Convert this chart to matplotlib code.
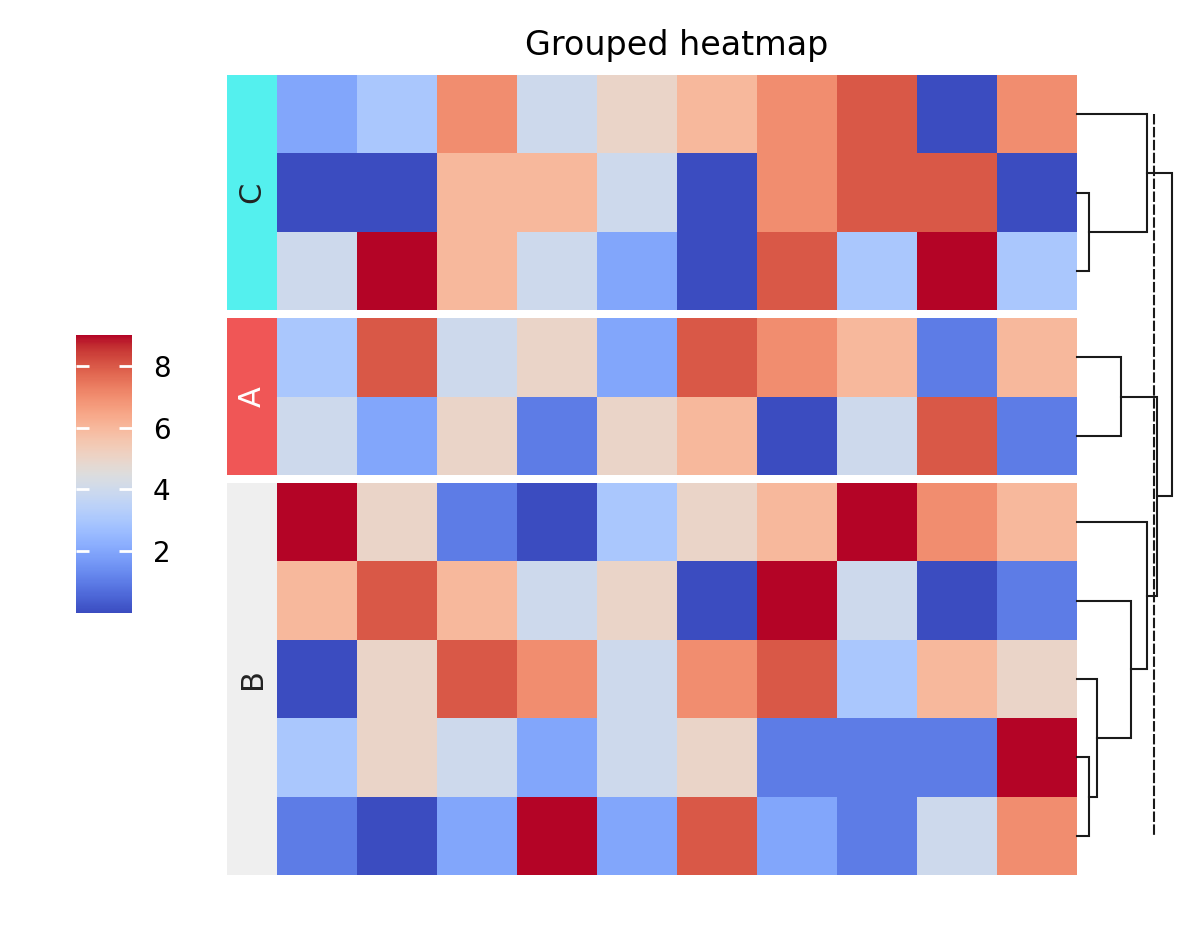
import numpy as np
import matplotlib
matplotlib.use("Agg")
import matplotlib.pyplot as plt

# values in display order (already reordered by the dendrogram)
groups = ["C", "A", "B"]
group_colors = {"C": "#54f0ee", "A": "#f05656", "B": "#efefef"}
label_colors = {"C": "#222222", "A": "white", "B": "#222222"}

values_C = [[2, 3, 7, 4, 5, 6, 7, 8, 0, 7],
            [0, 0, 6, 6, 4, 0, 7, 8, 8, 0],
            [4, 9, 6, 4, 2, 0, 8, 3, 9, 3]]
values_A = [[3, 8, 4, 5, 2, 8, 7, 6, 1, 6],
            [4, 2, 5, 1, 5, 6, 0, 4, 8, 1]]
values_B = [[9, 5, 1, 0, 3, 5, 6, 9, 7, 6],
            [6, 8, 6, 4, 5, 0, 9, 4, 0, 1],
            [0, 5, 8, 7, 4, 7, 8, 3, 6, 5],
            [3, 5, 4, 2, 4, 5, 1, 1, 1, 9],
            [1, 0, 2, 9, 2, 8, 2, 1, 4, 7]]
group_values = {"C": values_C, "A": values_A, "B": values_B}

# linkage per group, scipy style: (left, right, height), new clusters get n + k
link_C = [(1, 2, 0.12), (0, 3, 0.70)]
link_A = [(0, 1, 0.44)]
link_B = [(3, 4, 0.12), (2, 5, 0.20), (1, 6, 0.54), (0, 7, 0.70)]
group_links = {"C": link_C, "A": link_A, "B": link_B}
# linkage between groups (indices into `groups`)
meta_link = [(1, 2, 0.80), (0, 3, 0.95)]
divide_height = 0.767

vmin, vmax = 0, 9
cbar_ticks = [2, 4, 6, 8]

W, H, DPI = 1196, 940, 200
fig = plt.figure(figsize=(W / DPI, H / DPI), dpi=DPI)


def rect(x0, y0, x1, y1):
    """pixel box (top-left origin) -> figure fraction rect"""
    return [x0 / W, 1 - y1 / H, (x1 - x0) / W, (y1 - y0) / H]


left, right, top = 277, 1077, 75
bar_w = 50
row_h, gap = 78.4, 8
lw = 0.75

leaf_y = {}
y = top
for g in groups:
    vals = np.array(group_values[g])
    n = vals.shape[0]
    y1 = y + n * row_h
    ax = fig.add_axes(rect(left, y, right, y1))
    ax.pcolormesh(vals, cmap="coolwarm", vmin=vmin, vmax=vmax)
    ax.set_ylim(n, 0)
    ax.set_axis_off()

    bax = fig.add_axes(rect(left - bar_w, y, left, y1))
    bax.set_facecolor(group_colors[g])
    bax.set_xticks([])
    bax.set_yticks([])
    for s in bax.spines.values():
        s.set_visible(False)
    bax.text(0.5, 0.5, g, rotation=90, ha="center", va="center",
             fontsize=11, color=label_colors[g], transform=bax.transAxes)

    leaf_y[g] = [y + (i + 0.5) * row_h for i in range(n)]
    y = y1 + gap
bottom = y - gap

# dendrogram (x in distance units, y in pixel rows)
dax = fig.add_axes(rect(right, top, right + 120, bottom))
dax.set_xlim(0, 1.2)
dax.set_ylim(bottom, top)
dax.set_axis_off()


def draw_link(pos, link):
    nodes = list(pos)
    for a, b, h in link:
        (xa, ya), (xb, yb) = nodes[a], nodes[b]
        dax.plot([xa, h, h, xb], [ya, ya, yb, yb], color="#1a1a1a", lw=lw,
                 solid_joinstyle="miter", clip_on=False)
        nodes.append((h, (ya + yb) / 2))
    return nodes[-1]


roots = []
for g in groups:
    roots.append(draw_link([(0, yy) for yy in leaf_y[g]], group_links[g]))
draw_link(roots, meta_link)

all_leaves = [yy for g in groups for yy in leaf_y[g]]
dax.plot([divide_height, divide_height], [all_leaves[0], all_leaves[-1]],
         color="#1a1a1a", lw=lw, linestyle=(0, (5, 1.2)), clip_on=False)

# colorbar
cax = fig.add_axes(rect(76, 335, 132, 613))
sm = matplotlib.cm.ScalarMappable(cmap="coolwarm",
                                  norm=matplotlib.colors.Normalize(vmin, vmax))
cb = fig.colorbar(sm, cax=cax)
cb.outline.set_visible(False)
cb.set_ticks(cbar_ticks)
cax.tick_params(direction="in", left=True, right=True, color="white",
                length=4.8, width=1.0, labelsize=10, pad=7.5)

fig.text((left + right) / 2 / W, 1 - 46 / H, "Grouped heatmap",
         ha="center", va="center", fontsize=12)

fig.savefig("out.png", dpi=DPI)
